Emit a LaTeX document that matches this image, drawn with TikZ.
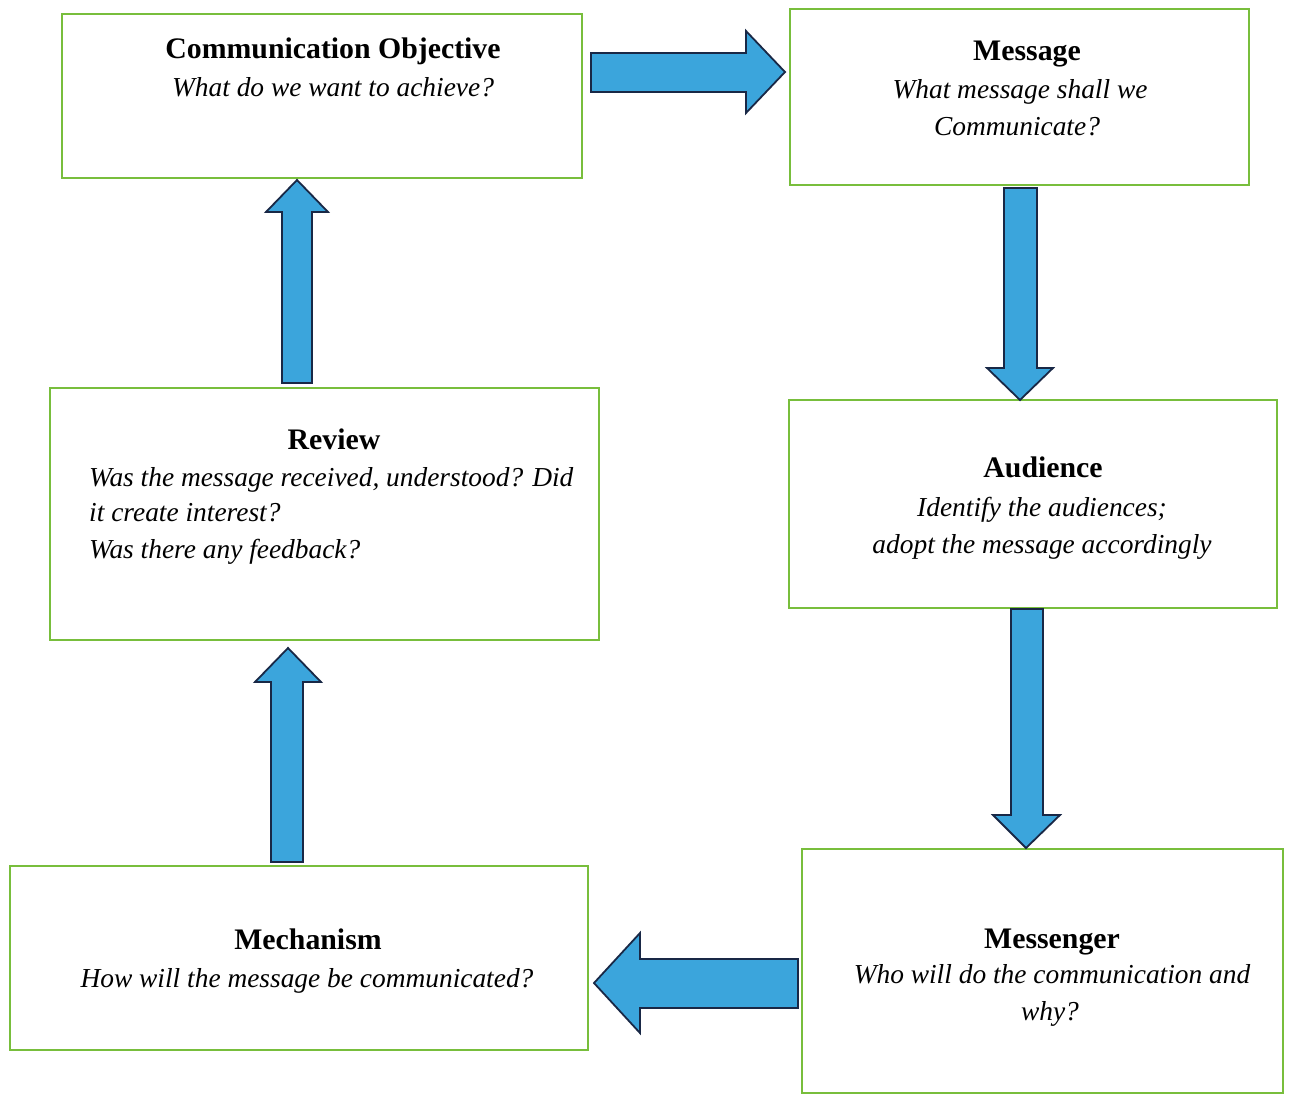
\documentclass[tikz,border=0pt]{standalone}
\usepackage{fontspec}
\setmainfont{Liberation Serif}
\begin{document}
\begin{tikzpicture}[x=1pt,y=-1pt,
  box/.style={draw=boxgreen,line width=2pt},
  ttl/.style={font=\fontsize{29.8}{37}\selectfont\bfseries,inner sep=0pt,anchor=base},
  body/.style={font=\fontsize{27.4}{37.5}\selectfont\itshape,inner sep=0pt,anchor=base},
  bodyl/.style={body,anchor=base west},
  barrow/.style={fill=arrowblue,draw=arrowline,line width=1.8pt,line join=miter}]
\definecolor{boxgreen}{RGB}{120,190,60}
\definecolor{arrowblue}{RGB}{59,165,220}
\definecolor{arrowline}{RGB}{25,40,70}
\useasboundingbox (0,0) rectangle (1289,1095);
\fill[white] (0,0) rectangle (1289,1095);
% boxes
\draw[box] (62,14) rectangle (582,178);
\draw[box] (790,9) rectangle (1249,185);
\draw[box] (789,400) rectangle (1277,608);
\draw[box] (802,849) rectangle (1283,1093);
\draw[box] (10,866) rectangle (588,1050);
\draw[box] (50,388) rectangle (599,640);
% texts
\node[ttl] (coT) at (333,58) {Communication Objective};
\node[body] (coB) at (333,96) {What do we want to achieve?};
\node[ttl] (msT) at (1027,60) {Message};
\node[body] (msB1) at (1020,98) {What message shall we};
\node[body] (msB2) at (1017,135) {Communicate?};
\node[ttl] (auT) at (1043,477) {Audience};
\node[body] (auB1) at (1042,516) {Identify the audiences;};
\node[body] (auB2) at (1042,553) {adopt the message accordingly};
\node[ttl] (mgT) at (1052,948) {Messenger};
\node[body] (mgB1) at (1052,983) {Who will do the communication and};
\node[body] (mgB2) at (1050,1020) {why?};
\node[ttl] (meT) at (308,949) {Mechanism};
\node[body] (meB) at (307,987) {How will the message be communicated?};
\node[ttl] (rvT) at (334,449) {Review};
\node[bodyl] (rvB1) at (89,486) {Was the message received, understood? Did};
\node[bodyl] (rvB2) at (89,521) {it create interest?};
\node[bodyl] (rvB3) at (89,558) {Was there any feedback?};
% arrows
\draw[barrow] (591,53) -- (746,53) -- (746,31) -- (785,72) -- (746,113) -- (746,92) -- (591,92) -- cycle;
\draw[barrow] (1004,188) -- (1037,188) -- (1037,368) -- (1053,368) -- (1020,400) -- (987,368) -- (1004,368) -- cycle;
\draw[barrow] (1011,609) -- (1043,609) -- (1043,815) -- (1060,815) -- (1026,848) -- (993,815) -- (1011,815) -- cycle;
\draw[barrow] (798,959) -- (640,959) -- (640,933) -- (594,983) -- (640,1033) -- (640,1008) -- (798,1008) -- cycle;
\draw[barrow] (271,862) -- (303,862) -- (303,682) -- (321,682) -- (288,648) -- (255,682) -- (271,682) -- cycle;
\draw[barrow] (282,383) -- (312,383) -- (312,212) -- (328,212) -- (297,180) -- (266,212) -- (282,212) -- cycle;
\end{tikzpicture}
\end{document}
